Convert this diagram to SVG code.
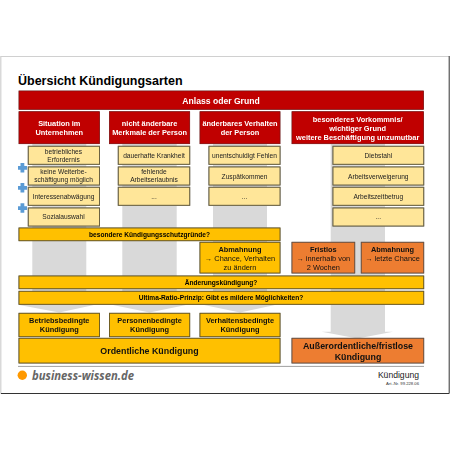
<svg xmlns="http://www.w3.org/2000/svg" width="450" height="450" viewBox="0 0 450 450">
<style>
text{font-family:"Liberation Sans",Arial,sans-serif;text-anchor:middle;fill:#000}
.s{filter:drop-shadow(.6px .6px .4px #777)}
.red{fill:#c00000;stroke:#8a1010;stroke-width:.7}
.lt{fill:#ffe699;stroke:#6b6242;stroke-width:1}
.yl{fill:#ffc000;stroke:#6b5a20;stroke-width:.9}
.or{fill:#ed7d31;stroke:#6b5040;stroke-width:.9}
.band{fill:#d9d9d9}
.h{font-weight:bold;font-size:7.4px;fill:#fff}
.t{font-size:6.65px;fill:#222}
.b{font-weight:bold;font-size:6.6px}
.k{font-weight:bold;font-size:7.4px;fill:#111}
.a{font-size:7.4px;fill:#111}
.ab{font-weight:bold;font-size:7.4px;fill:#111}
.big{font-weight:bold;font-size:8.85px;fill:#111}
.plus{fill:#5b9bd5}
</style>
<rect x="0" y="0" width="450" height="450" fill="#fff"/>
<g id="frame" fill="none">
<path d="M.8 394V56.5H449" stroke="#d0d0d0" stroke-width="1.2"/>
<path d="M449.2 56V393.5H1" stroke="#333" stroke-width="1"/>
</g>
<text id="title" x="18" y="85" style="text-anchor:start;font-weight:bold;font-size:12.5px">Übersicht Kündigungsarten</text>
<g id="connectors">
<path class="band" d="M32.3 144H86.3V305H94L59.3 312.5 19.3 305H32.3Z"/>
<path class="band" d="M122.3 144H176.7V305H186L149.5 312.5 113 305H122.3Z"/>
<path class="band" d="M213 144H267V305H275L240 312.5 204 305H213Z"/>
<path class="band" d="M330.7 144H385V331.7H393L357.5 338.5 321.7 331.7H330.7Z"/>
</g>
<g id="grund" class="s"><rect class="red" x="19" y="91" width="404.5" height="18.3"/><text x="221" y="103.8" style="font-weight:bold;font-size:8.6px;fill:#fff">Anlass oder Grund</text></g>
<g id="kopf1" class="s"><rect class="red" x="19" y="111.7" width="80.5" height="32"/><text class="h" x="59.3" y="126">Situation im</text><text class="h" x="59.3" y="135">Unternehmen</text></g>
<g id="kopf2" class="s"><rect class="red" x="109.5" y="111.7" width="80.2" height="32"/><text class="h" x="149.6" y="126">nicht änderbare</text><text class="h" x="149.6" y="135">Merkmale der Person</text></g>
<g id="kopf3" class="s"><rect class="red" x="200" y="111.7" width="80" height="32"/><text class="h" x="240" y="126">änderbares Verhalten</text><text class="h" x="240" y="135">der Person</text></g>
<g id="kopf4" class="s"><rect class="red" x="292" y="111.7" width="131.5" height="32"/><text class="h" x="357.7" y="121.5">besonderes Vorkommnis/</text><text class="h" x="357.7" y="130.5">wichtiger Grund</text><text class="h" x="357.7" y="139.5">weitere Beschäftigung unzumutbar</text></g>

<g id="g11" class="s"><rect class="lt" x="28.3" y="146.3" width="71.2" height="18"/><text class="t" x="63.5" y="153.7">betriebliches</text><text class="t" x="63.5" y="161.5">Erfordernis</text></g>
<g id="g12" class="s"><rect class="lt" x="28.3" y="167" width="71.2" height="18"/><text class="t" x="63.5" y="174.3">keine Weiterbe-</text><text class="t" x="63.5" y="182.3">schäftigung möglich</text></g>
<g id="g13" class="s"><rect class="lt" x="28.3" y="187.3" width="71.2" height="18"/><text class="t" x="63.5" y="198.6">Interessenabwägung</text></g>
<g id="g14" class="s"><rect class="lt" x="28.3" y="208" width="71.2" height="18"/><text class="t" x="63.5" y="219.3">Sozialauswahl</text></g>

<g id="g21" class="s"><rect class="lt" x="118.3" y="146.3" width="71.4" height="18"/><text class="t" x="154" y="157.7">dauerhafte Krankheit</text></g>
<g id="g22" class="s"><rect class="lt" x="118.3" y="167" width="71.4" height="18"/><text class="t" x="154" y="174.3">fehlende</text><text class="t" x="154" y="182.3">Arbeitserlaubnis</text></g>
<g id="g23" class="s"><rect class="lt" x="118.3" y="187.3" width="71.4" height="18"/><text class="t" x="154" y="198.6">...</text></g>

<g id="g31" class="s"><rect class="lt" x="209" y="146.3" width="71" height="18"/><text class="t" x="244.5" y="157.7">unentschuldigt Fehlen</text></g>
<g id="g32" class="s"><rect class="lt" x="209" y="167" width="71" height="18"/><text class="t" x="244.5" y="178.5">Zuspätkommen</text></g>
<g id="g33" class="s"><rect class="lt" x="209" y="187.3" width="71" height="18"/><text class="t" x="244.5" y="198.6">...</text></g>

<g id="g41" class="s"><rect class="lt" x="333" y="146.3" width="90.7" height="18"/><text class="t" x="378.3" y="157.7">Diebstahl</text></g>
<g id="g42" class="s"><rect class="lt" x="333" y="167" width="90.7" height="18"/><text class="t" x="378.3" y="178.5">Arbeitsverweigerung</text></g>
<g id="g43" class="s"><rect class="lt" x="333" y="187.3" width="90.7" height="18"/><text class="t" x="378.3" y="198.6">Arbeitszeitbetrug</text></g>
<g id="g44" class="s"><rect class="lt" x="333" y="208" width="90.7" height="18"/><text class="t" x="378.3" y="219.3">...</text></g>

<g id="plus1"><path class="plus" d="M20.5 163H24.3V166H27V169.8H24.3V172.5H20.5V169.8H18V166H20.5Z"/></g>
<g id="plus2"><path class="plus" d="M20.5 183H24.3V186H27V189.8H24.3V192.5H20.5V189.8H18V186H20.5Z"/></g>
<g id="plus3"><path class="plus" d="M20.5 203.3H24.3V206.3H27V210.1H24.3V212.8H20.5V210.1H18V206.3H20.5Z"/></g>

<g id="schutz" class="s"><rect class="yl" x="19" y="228" width="261" height="12.7"/><text class="b" x="149.5" y="236.8">besondere Kündigungsschutzgründe?</text></g>
<g id="abm1" class="s"><rect class="yl" x="200" y="242.3" width="80" height="30.7"/><text class="ab" x="240" y="251.5">Abmahnung</text><text class="a" x="240" y="260.5">→ Chance, Verhalten</text><text class="a" x="240" y="269.5">zu ändern</text></g>
<g id="fristlos" class="s"><rect class="or" x="292" y="242.3" width="62.7" height="30.7"/><text class="ab" x="323.3" y="251.5">Fristlos</text><text class="a" x="323.3" y="260.5">→ innerhalb von</text><text class="a" x="323.3" y="269.5">2 Wochen</text></g>
<g id="abm2" class="s"><rect class="or" x="361.3" y="242.3" width="62.4" height="30.7"/><text class="ab" x="392.5" y="251.5">Abmahnung</text><text class="a" x="392.5" y="260.5">→ letzte Chance</text></g>
<g id="aenderung" class="s"><rect class="yl" x="19" y="276" width="404.7" height="12.7"/><text class="b" x="221" y="285">Änderungskündigung?</text></g>
<g id="ultima" class="s"><rect class="yl" x="19" y="291.3" width="404.7" height="13"/><text class="b" x="221" y="300.3">Ultima-Ratio-Prinzip: Gibt es mildere Möglichkeiten?</text></g>
<g id="k1" class="s"><rect class="yl" x="19" y="313.3" width="80.5" height="23.4"/><text class="k" x="59.3" y="322.5">Betriebsbedingte</text><text class="k" x="59.3" y="331.5">Kündigung</text></g>
<g id="k2" class="s"><rect class="yl" x="109.5" y="313.3" width="80.2" height="23.4"/><text class="k" x="149.6" y="322.5">Personenbedingte</text><text class="k" x="149.6" y="331.5">Kündigung</text></g>
<g id="k3" class="s"><rect class="yl" x="200" y="313.3" width="80" height="23.4"/><text class="k" x="240" y="322.5">Verhaltensbedingte</text><text class="k" x="240" y="331.5">Kündigung</text></g>
<g id="ordentlich" class="s"><rect class="yl" x="19" y="338.3" width="261" height="24.7"/><text class="big" x="149.5" y="354">Ordentliche Kündigung</text></g>
<g id="ausser" class="s"><rect class="or" x="292" y="338.3" width="131.7" height="24.7"/><text class="big" x="358" y="349">Außerordentliche/fristlose</text><text class="big" x="358" y="359.5">Kündigung</text></g>
<g id="footer">
<path d="M18 366.4H424" stroke="#888" stroke-width=".8"/>
<circle cx="22.3" cy="375.3" r="4.7" fill="#ff9900"/>
<text x="32" y="380.3" textLength="102" lengthAdjust="spacingAndGlyphs" style="text-anchor:start;font-family:'Open Sans','Liberation Sans',sans-serif;font-style:italic;font-weight:bold;font-size:12.5px;fill:#666">business-wissen.de</text>
<text x="419" y="377.5" style="text-anchor:end;font-size:8.6px;fill:#222">Kündigung</text>
<text x="419" y="384.5" style="text-anchor:end;font-size:4.2px;fill:#333">Art.-Nr. 99.228.06</text>
</g>
</svg>
